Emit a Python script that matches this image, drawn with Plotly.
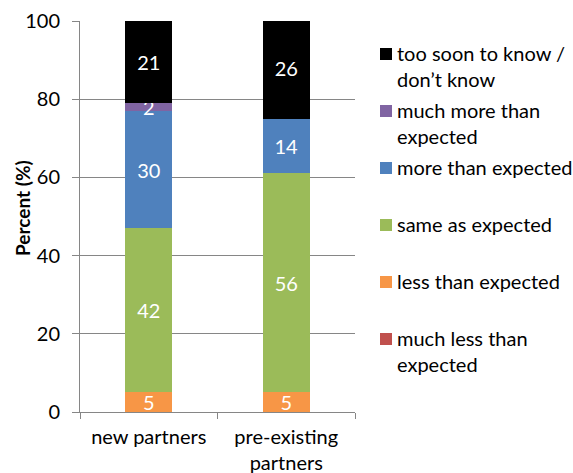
import plotly.graph_objects as go

# Categories along the x axis
categories = ["new partners", "pre-existing<br>partners"]

# Response series, stacked from the bottom up
series_names = [
    "much less than expected",
    "less than expected",
    "same as expected",
    "more than expected",
    "much more than expected",
    "too soon to know / don’t know",
]
much_less = [0, 0]
less = [5, 5]
same = [42, 56]
more = [30, 14]
much_more = [2, 0]
too_soon = [21, 26]

# Legend labels, top to bottom, with their line breaks
legend_labels = [
    "too soon to know /<br>don’t know",
    "much more than<br>expected",
    "more than expected",
    "same as expected",
    "less than expected",
    "much less than<br>expected",
]

y_ticks = [0, 20, 40, 60, 80, 100]

colors = ["#C0504D", "#F79646", "#9BBB59", "#4F81BD", "#8064A2", "#000000"]
values = [much_less, less, same, more, much_more, too_soon]

FONT = "Lato"
FS = 20
GRID = "#868686"

# Page geometry (pixels) of the plotting area
W, H = 573, 473
L, R, T, B = 80, 218, 21, 61
plot_w = W - L - R
plot_h = H - T - B


def paper_x(px):
    return (px - L) / plot_w


def paper_y(py):
    return (H - B - py) / plot_h


fig = go.Figure()
for name, vals, col in zip(series_names, values, colors):
    fig.add_trace(go.Bar(
        x=categories,
        y=vals,
        name=name,
        marker=dict(color=col, line=dict(width=0)),
        text=[str(v) if v > 0 else "" for v in vals],
        textposition="inside",
        insidetextanchor="middle",
        textangle=0,
        constraintext="none",
        textfont=dict(family=FONT, size=FS, color="white"),
        showlegend=False,
        hoverinfo="name+y",
    ))

# Legend drawn beside the plot: coloured square plus label per series
legend_colors = colors[::-1]
first_line_y = 54
step = 57.0
for i, (label, col) in enumerate(zip(legend_labels, legend_colors)):
    cy = first_line_y + i * step
    fig.add_shape(
        type="rect", xref="paper", yref="paper",
        x0=paper_x(380), x1=paper_x(392),
        y0=paper_y(cy - 6), y1=paper_y(cy + 6),
        fillcolor=col, line=dict(width=0),
    )
    fig.add_annotation(
        xref="paper", yref="paper",
        x=paper_x(396), y=paper_y(cy - 14),
        xanchor="left", yanchor="top", align="left",
        text=label, showarrow=False,
        font=dict(family=FONT, size=FS, color="#000000"),
        borderpad=0,
    )

# Vertical axis title
fig.add_annotation(
    xref="paper", yref="paper",
    x=paper_x(22), y=paper_y(208),
    xanchor="center", yanchor="middle",
    text="<b>Percent (%)</b>", textangle=-90, showarrow=False,
    font=dict(family=FONT, size=FS - 1, color="#000000"),
)

fig.update_layout(
    width=W, height=H,
    margin=dict(l=L, r=R, t=T, b=B, pad=0, autoexpand=False),
    barmode="stack",
    bargap=0.658,
    plot_bgcolor="white",
    paper_bgcolor="white",
    font=dict(family=FONT, size=FS, color="#000000"),
    xaxis=dict(
        type="category",
        range=[-0.5, 1.5],
        automargin=False,
        showline=True, linecolor=GRID, linewidth=1,
        ticks="outside", tickson="boundaries", ticklen=6, tickcolor=GRID,
        ticklabelstandoff=7,
        showgrid=False,
        tickfont=dict(family=FONT, size=FS, color="#000000"),
    ),
    yaxis=dict(
        range=[0, 100],
        automargin=False,
        tickvals=y_ticks,
        showline=True, linecolor=GRID, linewidth=1,
        showgrid=True, gridcolor=GRID, gridwidth=1,
        ticks="outside", ticklen=7, tickcolor=GRID,
        ticklabelstandoff=8,
        zeroline=False,
        tickfont=dict(family=FONT, size=FS, color="#000000"),
    ),
)

fig.write_html("out.html")
